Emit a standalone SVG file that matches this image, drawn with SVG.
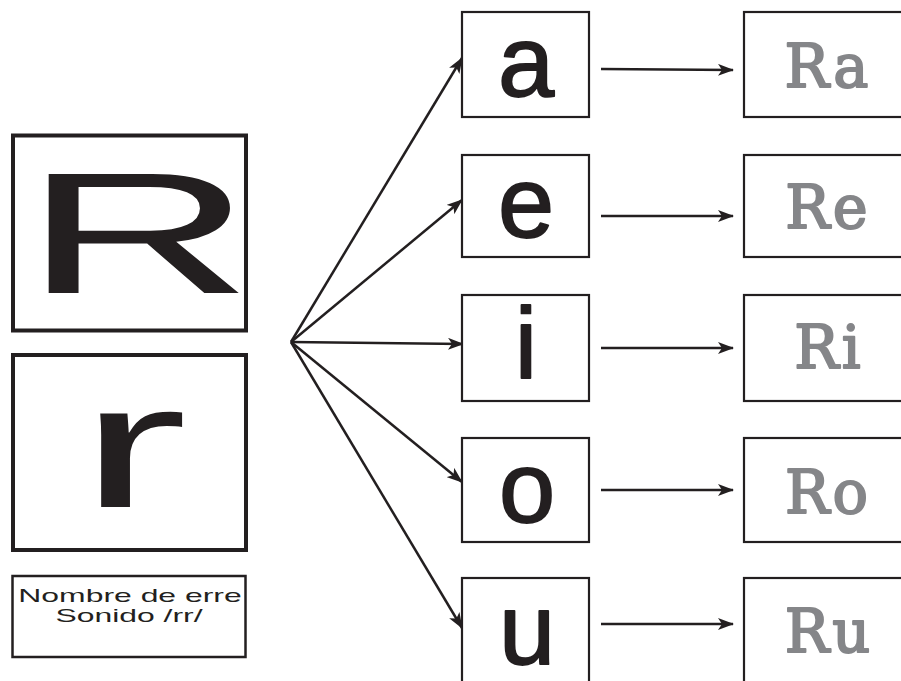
<svg xmlns="http://www.w3.org/2000/svg" width="901" height="681" viewBox="0 0 901 681">
<defs>
<marker id="ah" markerUnits="userSpaceOnUse" markerWidth="16" markerHeight="12" viewBox="0 0 16 12" refX="15" refY="6" orient="auto">
<path d="M0,0 L16,6 L0,12 L4,6 z" fill="#231f20"/>
</marker>
<style>
.box{fill:#fff;stroke:#231f20;stroke-width:2.2}
.bigbox{fill:#fff;stroke:#231f20;stroke-width:4}
.v{font-family:"Liberation Sans",Arial,sans-serif;font-size:101px;fill:#231f20;stroke:#231f20;stroke-width:1.8;stroke-linejoin:round;text-anchor:middle}
.s{font-family:"DejaVu Serif",serif;font-size:59px;letter-spacing:3px;fill:#858689;stroke:#858689;stroke-width:2;stroke-linejoin:round;text-anchor:middle}
.ln{stroke:#231f20;stroke-width:2.5;fill:none;marker-end:url(#ah)}
.lbl{font-family:"Liberation Sans",Arial,sans-serif;font-size:19px;fill:#231f20;text-anchor:middle}
</style>
</defs>
<rect width="901" height="681" fill="#fff"/>
<g id="R-upper">
<rect class="bigbox" x="13" y="135.5" width="233" height="195"/>
<text transform="translate(138,293) scale(1.85,1)" font-family="Liberation Sans,Arial,sans-serif" font-size="173" fill="#231f20" text-anchor="middle">R</text>
</g>
<g id="r-lower">
<rect class="bigbox" x="13" y="355" width="233" height="195"/>
<text transform="translate(133,507) scale(1.85,1)" font-family="Liberation Sans,Arial,sans-serif" font-size="177" fill="#231f20" text-anchor="middle">r</text>
</g>
<g id="label">
<rect x="12.5" y="576" width="233" height="81" fill="#fff" stroke="#231f20" stroke-width="2.5"/>
<text class="lbl" transform="translate(130,602) scale(1.68,1)">Nombre de erre</text>
<text class="lbl" transform="translate(129,622) scale(1.68,1)">Sonido /rr/</text>
</g>
<g id="connectors">
<line class="ln" x1="291" y1="342" x2="462" y2="58"/>
<line class="ln" x1="291" y1="342" x2="462" y2="200"/>
<line class="ln" x1="291" y1="342" x2="463" y2="344"/>
<line class="ln" x1="291" y1="342" x2="462" y2="482"/>
<line class="ln" x1="291" y1="342" x2="462" y2="628"/>
<line class="ln" x1="601" y1="69" x2="733" y2="70"/>
<line class="ln" x1="601" y1="216" x2="733" y2="216"/>
<line class="ln" x1="601" y1="348" x2="733" y2="348"/>
<line class="ln" x1="601" y1="490" x2="733" y2="490"/>
<line class="ln" x1="601" y1="624" x2="733" y2="624"/>
</g>
<g id="v-a"><rect class="box" x="462" y="12" width="127" height="105"/><text class="v" x="526" y="96">a</text></g>
<g id="v-e"><rect class="box" x="462" y="155" width="127" height="102"/><text class="v" x="526" y="237">e</text></g>
<g id="v-i"><rect class="box" x="462" y="295" width="127" height="106"/><text class="v" x="526" y="378">i</text></g>
<g id="v-o"><rect class="box" x="462" y="438" width="127" height="104"/><text class="v" x="527" y="522">o</text></g>
<g id="v-u"><rect class="box" x="462" y="578" width="127" height="120"/><text class="v" x="527" y="664">u</text></g>
<g id="s-ra"><rect class="box" x="744" y="12" width="200" height="105"/><text class="s" x="828" y="87">Ra</text></g>
<g id="s-re"><rect class="box" x="744" y="155" width="200" height="102"/><text class="s" x="828" y="228">Re</text></g>
<g id="s-ri"><rect class="box" x="744" y="295" width="200" height="106"/><text class="s" x="829" y="368">Ri</text></g>
<g id="s-ro"><rect class="box" x="744" y="438" width="200" height="104"/><text class="s" x="828" y="513">Ro</text></g>
<g id="s-ru"><rect class="box" x="744" y="578" width="200" height="120"/><text class="s" x="829" y="652">Ru</text></g>
</svg>
